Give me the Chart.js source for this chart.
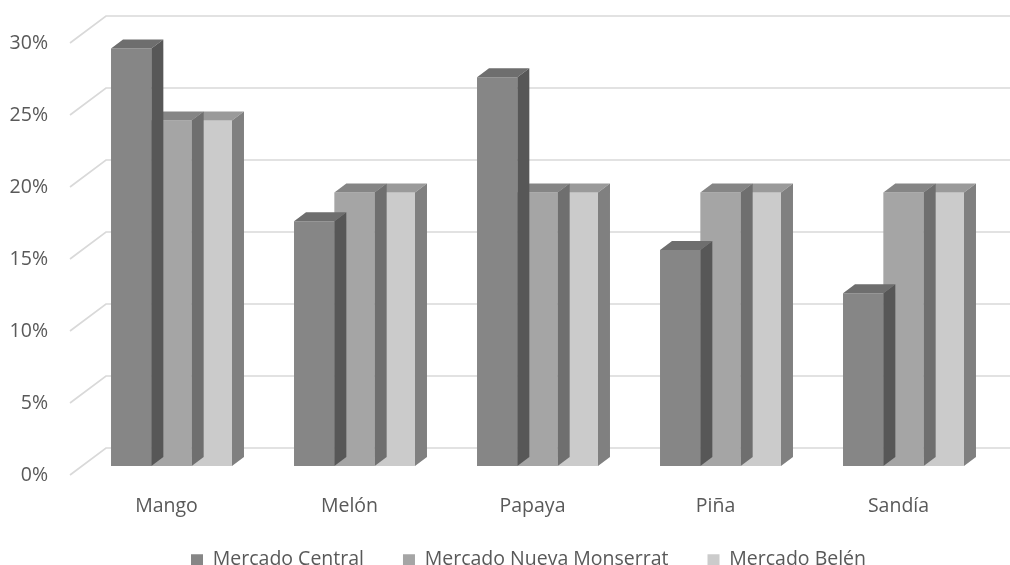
<!DOCTYPE html>
<html>
<head>
<meta charset="utf-8">
<script src="https://cdn.jsdelivr.net/npm/chart.js@4.4.1/dist/chart.umd.min.js"></script>
<style>
  html, body { margin: 0; padding: 0; background: #ffffff; overflow: hidden; }
  #wrap { width: 1010px; height: 565px; }
</style>
</head>
<body>
<div id="wrap"><canvas id="c" width="1010" height="565"></canvas></div>
<script>
// ---- data ----
const categories = ['Mango', 'Melón', 'Papaya', 'Piña', 'Sandía'];
const seriesNames = ['Mercado Central', 'Mercado Nueva Monserrat', 'Mercado Belén'];
const mercadoCentral = [29, 17, 27, 15, 12];
const mercadoNuevaMonserrat = [24, 19, 19, 19, 19];
const mercadoBelen = [24, 19, 19, 19, 19];
const yTicks = [0, 5, 10, 15, 20, 25, 30];

// ---- styles ----
const frontColors = ['#868686', '#a5a5a5', '#cbcbcb'];
const topColors = ['#6e6e6e', '#858585', '#9a9a9a'];
const sideColors = ['#575757', '#6f6f6f', '#808080'];
const DX = 12, DY = 9;           // bar depth
const WALL_DX = 36, WALL_DY = 27; // back wall depth
const textColor = '#595959';
const FONT = "'Open Sans', 'DejaVu Sans', sans-serif";
const FS = 19.5;

const threeD = {
  id: 'threeD',
  afterLayout(chart) {
    const lg = chart.legend;
    lg.left += 37; lg.right += 37;
    lg.top -= 8; lg.bottom -= 8;
  },
  beforeDatasetsDraw(chart) {
    const ctx = chart.ctx;
    const y = chart.scales.y;
    const left = chart.chartArea.left;
    ctx.save();
    ctx.strokeStyle = '#d9d9d9';
    ctx.lineWidth = 1.7;
    yTicks.forEach(v => {
      const py = y.getPixelForValue(v);
      ctx.beginPath();
      ctx.moveTo(left + 2, py);
      ctx.lineTo(left + 2 + WALL_DX, py - WALL_DY);
      ctx.lineTo(chart.width, py - WALL_DY);
      ctx.stroke();
    });
    ctx.restore();
    ctx.save();
    ctx.translate(DX, -DY);
  },
  afterDatasetDraw(chart, args) {
    const ctx = chart.ctx;
    const i = args.index;
    args.meta.data.forEach(bar => {
      const p = bar.getProps(['x', 'y', 'base', 'width'], true);
      const l = p.x - p.width / 2, r = p.x + p.width / 2;
      ctx.fillStyle = topColors[i];
      ctx.beginPath();
      ctx.moveTo(l, p.y);
      ctx.lineTo(r, p.y);
      ctx.lineTo(r + DX, p.y - DY);
      ctx.lineTo(l + DX, p.y - DY);
      ctx.closePath();
      ctx.fill();
      ctx.fillStyle = sideColors[i];
      ctx.beginPath();
      ctx.moveTo(r, p.y);
      ctx.lineTo(r + DX, p.y - DY);
      ctx.lineTo(r + DX, p.base - DY);
      ctx.lineTo(r, p.base);
      ctx.closePath();
      ctx.fill();
    });
  },
  afterDatasetsDraw(chart) {
    chart.ctx.restore();
  }
};

const seriesValues = [mercadoCentral, mercadoNuevaMonserrat, mercadoBelen];

new Chart(document.getElementById('c'), {
  type: 'bar',
  data: {
    labels: categories,
    datasets: seriesNames.map((name, i) => ({
      label: name,
      data: seriesValues[i],
      backgroundColor: frontColors[i],
      borderWidth: 0,
      clip: false,
      categoryPercentage: 0.661,
      barPercentage: 1
    }))
  },
  options: {
    responsive: false,
    devicePixelRatio: 1,
    animation: false,
    layout: { padding: { left: 0, right: 27, top: 43, bottom: -22.5 } },
    plugins: {
      tooltip: { enabled: false },
      legend: {
        position: 'bottom',
        labels: {
          boxWidth: 12,
          boxHeight: 11,
          padding: 39,
          color: textColor,
          font: { family: FONT, size: FS }
        }
      }
    },
    scales: {
      x: {
        grid: { display: false, drawTicks: false },
        border: { display: false },
        ticks: { color: textColor, font: { family: FONT, size: FS }, padding: 20, labelOffset: 7 },
        afterFit(s) { s.height = 44; }
      },
      y: {
        min: 0,
        max: 30,
        grid: { display: false, drawTicks: false },
        border: { display: false },
        ticks: {
          stepSize: 5,
          color: textColor,
          font: { family: FONT, size: FS },
          padding: 20,
          callback: v => v + '%'
        },
        afterFit(s) { s.width = 68; }
      }
    }
  },
  plugins: [threeD]
});
</script>
</body>
</html>
